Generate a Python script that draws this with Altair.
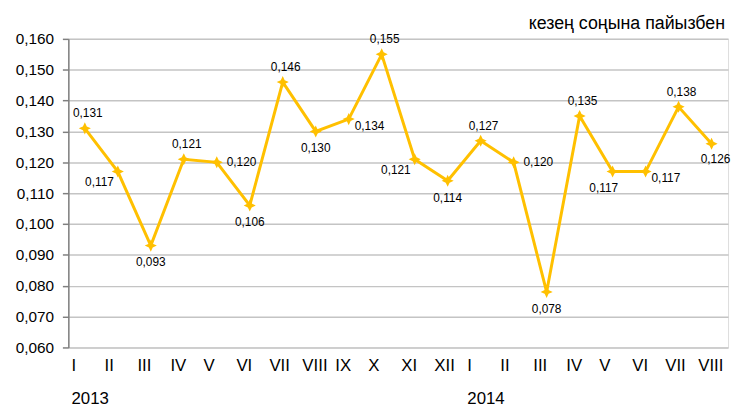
import altair as alt
import pandas as pd

# ---- data ----
years = ["2013"] * 12 + ["2014"] * 8
months = ["I", "II", "III", "IV", "V", "VI", "VII", "VIII", "IX", "X", "XI", "XII",
          "I", "II", "III", "IV", "V", "VI", "VII", "VIII"]
values = [0.131, 0.117, 0.093, 0.121, 0.120, 0.106, 0.146, 0.130, 0.134, 0.155,
          0.121, 0.114, 0.127, 0.120, 0.078, 0.135, 0.117, 0.117, 0.138, 0.126]
label_place = ["above", "left", "below", "above", "right", "below", "above", "below",
               "right_low", "above", "left", "below", "above", "right", "below", "above",
               "below_l", "right_low", "above", "below_r"]
y_ticks = [0.06, 0.07, 0.08, 0.09, 0.10, 0.11, 0.12, 0.13, 0.14, 0.15, 0.16]
year_labels = ["2013", "2014"]
title_text = "кезең соңына пайызбен"

# ---- styles ----
W, H = 667, 312
FONT = "Liberation Sans"
GOLD = "#FFC000"
STAR = "M0,-1L0.32,-0.32L1,0L0.32,0.32L0,1L-0.32,0.32L-1,0L-0.32,-0.32Z"
place_style = {
    "above": dict(align="center", dx=3, dy=-15),
    "below": dict(align="center", dx=0, dy=17),
    "below_l": dict(align="center", dx=-9, dy=17),
    "below_r": dict(align="center", dx=4, dy=15),
    "left": dict(align="right", dx=-4, dy=11),
    "right": dict(align="left", dx=10, dy=0),
    "right_low": dict(align="left", dx=6, dy=7),
}

keys = [f"{y}-{m}" for y, m in zip(years, months)]
df = pd.DataFrame({
    "key": keys,
    "value": values,
    "place": label_place,
    "label": [f"{v:.3f}".replace(".", ",") for v in values],
})
year_df = pd.DataFrame({"key": [keys[years.index(y)] for y in year_labels], "year": year_labels})
title_df = pd.DataFrame({"t": [title_text]})

x_scale = alt.Scale(type="band", domain=keys, paddingInner=0, paddingOuter=0)
x_enc = alt.X(
    "key:N",
    sort=None,
    scale=x_scale,
    axis=alt.Axis(
        title=None, domain=False, ticks=False, grid=False, labelAngle=0,
        labelExpr="split(datum.label, '-')[1]", labelAlign="left", labelOffset=-13.5,
        labelFontSize=17, labelPadding=10, labelColor="#000000", labelFont=FONT,
        labelOverlap=False, labelBound=False,
    ),
)
y_enc = alt.Y(
    "value:Q",
    scale=alt.Scale(domain=[0.06, 0.16], nice=False, zero=False),
    axis=alt.Axis(
        title=None, values=y_ticks,
        labelExpr="replace(format(datum.value, '.3f'), '.', ',')",
        labelFontSize=15.5, labelPadding=9, labelColor="#000000", labelFont=FONT,
        domain=True, domainColor="#7F7F7F", domainWidth=1.5,
        ticks=True, tickColor="#7F7F7F", tickSize=6, tickWidth=1.5,
        grid=True, gridColor="#C4C4C4", gridWidth=1.5,
    ),
)

base = alt.Chart(df).encode(x=x_enc, y=y_enc)
line = base.mark_line(color=GOLD, strokeWidth=3)
points = base.mark_point(shape=STAR, filled=True, size=150, color=GOLD, opacity=1)

text_layers = []
for p, st in place_style.items():
    text_layers.append(
        base.transform_filter(alt.datum.place == p)
        .mark_text(fontSize=12, font=FONT, color="#000000", baseline="middle", **st)
        .encode(text="label:N")
    )

year_text = alt.Chart(year_df).mark_text(
    align="left", baseline="alphabetic", dx=-13.5, fontSize=17, font=FONT, color="#000000"
).encode(x=alt.X("key:N", sort=None, scale=x_scale),
         y=alt.value(H + 57), text="year:N")

title = alt.Chart(title_df).mark_text(
    align="right", baseline="alphabetic", fontSize=18, font=FONT, color="#000000"
).encode(x=alt.value(W - 3), y=alt.value(-10), text="t:N")

chart = alt.layer(line, points, *text_layers, year_text, title).properties(
    width=W, height=H,
    autosize=alt.AutoSizeParams(type="none"),
    padding={"left": 61, "top": 29, "right": 4, "bottom": 58},
).configure_view(stroke=None).configure(font=FONT)

chart.save("out.html", embed_options={"renderer": "svg", "actions": False})
